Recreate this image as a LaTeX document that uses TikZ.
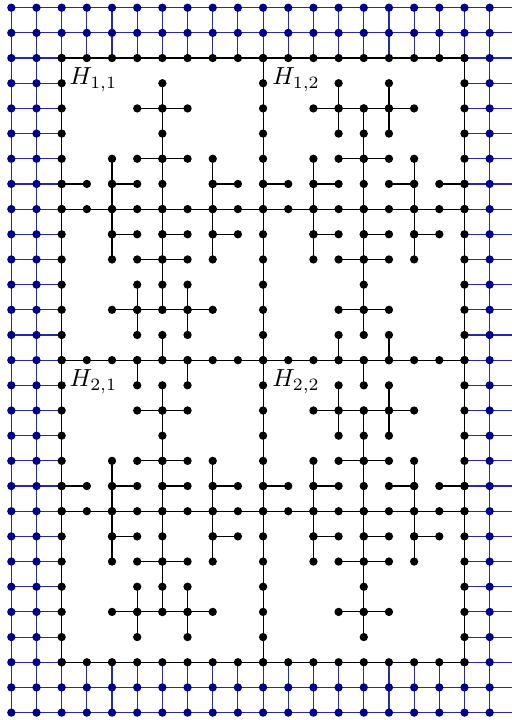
\documentclass[tikz,border=0pt]{standalone}
\definecolor{navydot}{RGB}{0,0,139}
\definecolor{navyline}{RGB}{40,40,170}
\begin{document}
\begin{tikzpicture}[x=1cm, y=-1cm,
    bluelink/.style={draw=navyline, line width=1.3pt},
    blacklink/.style={draw=black, line width=1.3pt},
    bluevtx/.style={fill=navydot},
    blackvtx/.style={fill=black},
    every node/.style={scale=2.8, inner sep=0pt, anchor=base west}]
  \useasboundingbox (-0.45,-0.306) rectangle (19.85,28.294);
  \foreach \c in {0,...,19} \foreach \r in {0,...,28} \coordinate (v\c-\r) at (\c,\r);
  \foreach \r in {0,...,28} \coordinate (x\r) at (20,\r);
  % outer grid
  \foreach \c in {0,...,18} \foreach \r in {0,...,28} {
    \pgfmathtruncatemacro\inside{(\r>1)*(\r<27)*(\c>1)*(\c<18)}
    \pgfmathtruncatemacro\cn{\c+1}
    \ifnum\inside=0 \draw[bluelink] (v\c-\r) -- (v\cn-\r); \fi
  }
  \foreach \r in {0,...,28} \draw[bluelink] (v19-\r) -- (x\r);
  \foreach \c in {0,...,19} \foreach \r in {0,...,27} {
    \pgfmathtruncatemacro\inside{(\c>1)*(\c<19)*(\r>1)*(\r<26)}
    \pgfmathtruncatemacro\rn{\r+1}
    \ifnum\inside=0 \draw[bluelink] (v\c-\r) -- (v\c-\rn); \fi
  }
  \foreach \c in {0,...,19} \foreach \r in {0,...,28} {
    \pgfmathtruncatemacro\inside{(\c>1)*(\c<19)*(\r>1)*(\r<27)}
    \ifnum\inside=0 \fill[bluevtx] (v\c-\r) circle[radius=0.165]; \fi
  }
  % frame and the four trees
  \foreach \xa/\ya/\xb/\yb in {2/2/18/2, 2/8/18/8, 2/14/18/14, 2/20/18/20, 2/26/18/26,
      2/2/2/26, 10/2/10/26, 18/2/18/26,
      6/3/6/12, 5/4/7/4, 5/6/7/6, 4/6/4/10, 8/6/8/10, 2/7/3/7, 4/7/5/7, 8/7/9/7,
      4/9/5/9, 6/9/7/9, 8/9/9/9, 5/10/7/10, 4/12/8/12, 5/11/5/13, 7/11/7/13, 6/13/6/14,
      13/3/13/5, 15/3/15/5, 12/4/16/4, 14/4/14/13, 13/6/15/6, 12/6/12/10, 16/6/16/10,
      10/7/11/7, 12/7/13/7, 15/7/16/7, 17/7/18/7, 12/9/13/9, 14/9/15/9, 16/9/17/9,
      13/10/15/10, 13/12/15/12, 13/13/13/14, 15/13/15/14,
      5/14/5/15, 7/14/7/15, 6/15/6/24, 5/16/7/16, 5/18/7/18, 4/18/4/22, 8/18/8/22,
      2/19/3/19, 4/19/5/19, 6/19/7/19, 8/19/9/19, 4/21/5/21, 8/21/9/21, 5/22/7/22,
      5/23/5/25, 7/23/7/25, 4/24/8/24,
      14/14/14/15, 13/15/13/17, 15/15/15/17, 12/16/16/16, 14/16/14/25, 13/18/15/18,
      12/18/12/22, 16/18/16/22, 10/19/11/19, 12/19/13/19, 15/19/16/19, 17/19/18/19,
      12/21/13/21, 14/21/15/21, 16/21/17/21, 13/22/15/22, 13/24/15/24} {
    \draw[blacklink] (v\xa-\ya) -- (v\xb-\yb);
    \foreach \cc in {\xa,...,\xb} \foreach \rr in {\ya,...,\yb}
      \fill[blackvtx] (v\cc-\rr) circle[radius=0.165];
  }
  \node (h11) at (2.3,3.05) {$H_{1,1}$};
  \node (h12) at (10.35,3.05) {$H_{1,2}$};
  \node (h21) at (2.3,15.05) {$H_{2,1}$};
  \node (h22) at (10.35,15.05) {$H_{2,2}$};
\end{tikzpicture}
\end{document}
